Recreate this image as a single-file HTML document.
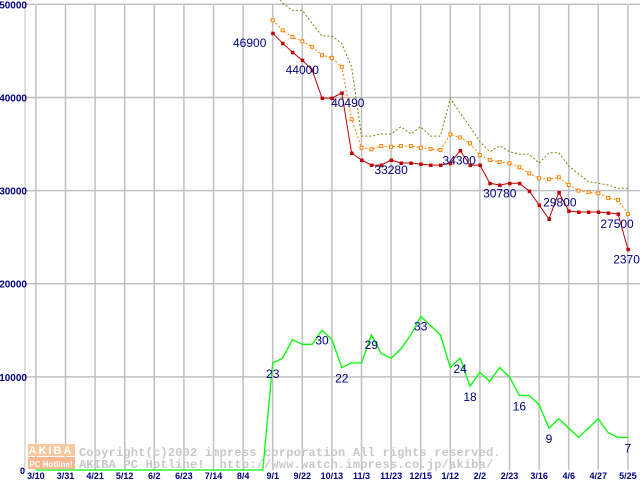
<!DOCTYPE html>
<html><head><meta charset="utf-8"><style>
html,body{margin:0;padding:0;background:#fff}
svg{display:block}
text{font-family:"Liberation Sans",sans-serif}
</style></head><body>
<svg id="chart" width="640" height="480" viewBox="0 0 640 480" xmlns="http://www.w3.org/2000/svg">
<g id="grid"></g>
<g id="wm">
  <rect x="28" y="444" width="47" height="12" fill="#f8c8a0"/>
  <rect x="28" y="457" width="47" height="12" fill="#f8b890"/>
  <text x="51" y="454" font-size="11" font-weight="bold" fill="#fff" text-anchor="middle" letter-spacing="2">AKIBA</text>
  <text x="51" y="467" font-size="8" font-weight="bold" fill="#fff" text-anchor="middle">PC Hotline!</text>
  <text x="79" y="456" style="font-family:'Liberation Mono',monospace;font-size:12px;font-weight:bold;letter-spacing:0.2px" fill="#c8c8c8">Copyright(c)2002 impress corporation All rights reserved.</text>
  <text x="79" y="468" style="font-family:'Liberation Mono',monospace;font-size:12px;font-weight:bold;letter-spacing:0.2px;white-space:pre" fill="#c8c8c8" xml:space="preserve">AKIBA PC Hotline!  http://www.watch.impress.co.jp/akiba/</text>
</g>
<g id="series"></g>
<g id="labels"></g>
</svg>
<script>
const xTickLabels = ["3/10","3/31","4/21","5/12","6/2","6/23","7/14","8/4","9/1","9/22","10/13","11/3","11/23","12/15","1/12","2/2","2/23","3/16","4/6","4/27","5/25"];
const yTickLabels = ["0","10000","20000","30000","40000","50000"];
const yTickValues = [0,10000,20000,30000,40000,50000];
const priceStart = 24;
const lowPrice = [46900,45820,44850,44000,42930,39930,39930,40490,34030,33280,32740,32740,33280,32960,32960,32850,32740,32740,32930,34300,32740,32740,30780,30600,30780,30780,29950,28450,26950,29800,27810,27700,27700,27700,27600,27500,23700];
const avgPrice = [48290,47210,46500,46030,45430,44530,44250,43280,37670,34600,34430,34780,34700,34780,34780,34600,34460,34350,36030,35710,35070,33810,33280,33070,32930,32500,31850,31320,31210,31430,30600,29990,29820,29710,29210,29000,27500];
const highPrice = [51500,50140,49360,49360,47930,46600,46600,45790,43280,35850,35850,36070,36070,36850,36070,36850,35850,35850,39890,38320,36850,35240,34170,34810,34170,33920,33920,32930,34060,34060,32640,31780,30950,30780,30600,30250,30250];
const shopCount = [0,0,0,0,0,0,0,0,0,0,0,0,0,0,0,0,0,0,0,0,0,0,0,0,23,24,28,27,27,30,28,22,23,23,29,25,24,26,29,33,31,29,22,24,18,21,19,22,20,16,16,14,9,11,9,7,9,11,8,7,7];
const countScale = 500;
const priceLabelIdx = [0,3,7,12,19,22,29,35,36];
const priceLabelDx = [-23,0,6,0,-1,10,1,-1,2];
const countLabelIdx = [24,29,31,34,39,43,44,49,52,60];

const NS="http://www.w3.org/2000/svg";
const X0=35.9, DX=29.6/3, Y0=470, KY=0.009314;
const xs=i=>X0+i*DX;
const ys=v=>Y0-v*KY;
function mk(tag,attrs,parent){const e=document.createElementNS(NS,tag);for(const k in attrs)e.setAttribute(k,attrs[k]);parent.appendChild(e);return e;}
const grid=document.getElementById('grid'), ser=document.getElementById('series'), lab=document.getElementById('labels');

let e=mk('line',{x1:25,y1:ys(50000),x2:25,y2:Y0,stroke:'#c0c0c0'},grid);


yTickValues.forEach((v,k)=>{
  if(v>0){const l=mk('line',{x1:25,y1:ys(v),x2:640,y2:ys(v),stroke:'#c0c0c0',"stroke-width":1.5},grid);
  
  }
  const t=mk('text',{x:v===0?25:27,y:ys(v)+4,"font-size":v===0?9:10,"font-weight":"bold",fill:'#000080',"text-anchor":"end"},grid);
  t.textContent=yTickLabels[k];
  
  
});
xTickLabels.forEach((s,k)=>{
  const x=xs(k*3);
  const l=mk('line',{x1:x,y1:ys(50000),x2:x,y2:Y0,stroke:'#c0c0c0',"stroke-width":1.5},grid);
  
  
  const t=mk('text',{x:x,y:479,"font-size":9,"font-weight":"bold",fill:'#000080',"text-anchor":"middle"},grid);
  t.textContent=s;
  
  
});

function pts(arr,start,scale){return arr.map((v,i)=>xs(start+i).toFixed(1)+','+ys(v*scale).toFixed(1)).join(' ');}
let p=mk('polyline',{points:pts(highPrice,priceStart,1),fill:'none',stroke:'#808000',"stroke-dasharray":"2,2"},ser);


p=mk('polyline',{points:pts(avgPrice,priceStart,1),fill:'none',stroke:'#ff8000',"stroke-dasharray":"2,2"},ser);


avgPrice.forEach((v,i)=>{const r=mk('rect',{x:xs(priceStart+i)-1.5,y:ys(v)-1.5,width:3,height:3,fill:'#fff',stroke:'#ff8000'},ser);
  
  });
p=mk('polyline',{points:pts(lowPrice,priceStart,1),fill:'none',stroke:'#c00000'},ser);


lowPrice.forEach((v,i)=>{const r=mk('rect',{x:xs(priceStart+i)-1.5,y:ys(v)-1.5,width:3.5,height:3.5,fill:'#c00000'},ser);
  
  });
p=mk('polyline',{points:pts(shopCount,0,countScale),fill:'none',stroke:'#00ff00',"stroke-width":1.3},ser);



priceLabelIdx.forEach((idx,k)=>{
  const t=mk('text',{x:xs(priceStart+idx)+priceLabelDx[k],y:ys(lowPrice[idx])+14,"font-size":12,fill:'#000080',"text-anchor":"middle"},lab);
  t.textContent=lowPrice[idx];
  
  
});
countLabelIdx.forEach(idx=>{
  const v=shopCount[idx];
  const up=[29,34,39].includes(idx);
  const t=mk('text',{x:xs(idx),y:ys(v*countScale)+(up?14:15),"font-size":12,fill:'#000080',"text-anchor":"middle"},lab);
  t.textContent=v;
  
  
});
</script>
</body></html>
